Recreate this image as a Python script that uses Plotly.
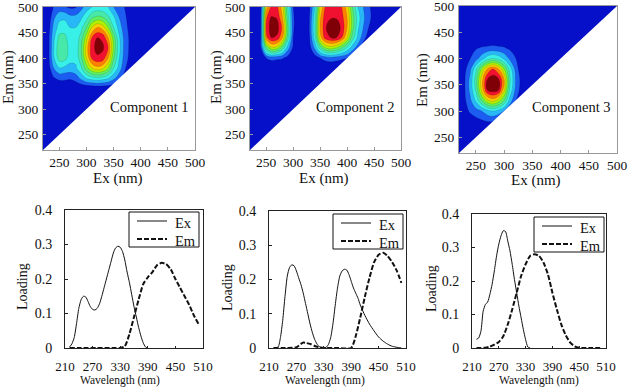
import plotly.graph_objects as go

W, H = 628, 389
FONT = "Liberation Serif"

# EEM grids, contour band index, top row is Em 500
# rows are short, whatever is missing on the right is 0
ex_grid = list(range(220, 510, 10))
em_grid = [500, 480, 460, 440, 420, 400, 380, 360, 340, 320, 300, 280, 260, 240, 220]

comp1 = [
    [0, 0, 1.1, 1.3, 1.1, 0.8, 0.9, 1.6, 2.5, 3, 3.3, 3.2, 3, 2, 1.5, 1, 0.5],
    [0, 0.3, 1.8, 2.7, 2.8, 2.3, 2.3, 2.8, 3.6, 4.8, 5.2, 5, 4.2, 3.2, 2, 1.2, 0.6],
    [0, 0.5, 2.4, 3.4, 3.5, 3, 3, 3.6, 5, 7, 8, 7.5, 6, 4, 2.6, 1.4, 0.7],
    [0, 0.7, 2.8, 4.3, 4.3, 3.3, 3.2, 4.4, 6.5, 9, 10, 9.8, 8, 5.5, 3.2, 1.7, 0.8],
    [0, 0.7, 3, 4.8, 4.7, 3.5, 3.3, 4.8, 7.5, 9.6, 10.4, 10.2, 9, 5.8, 3.4, 1.7, 0.8],
    [0, 0.7, 2.9, 4.5, 4.4, 3.4, 3.3, 4.6, 7, 9.2, 9.8, 9.6, 8, 5.2, 3.1, 1.6, 0.7],
    [0, 0.5, 2, 2.9, 2.7, 2.6, 2.8, 3.8, 5.5, 7, 7.6, 7.2, 6, 4, 2.6, 1.2, 0.3],
    [0, 0.2, 0.9, 1.2, 1.2, 1.1, 1.4, 2.2, 3, 3.4, 3.6, 3.4, 3, 2.2, 1.4, 0.6],
    [0, 0, 0, 0, 0, 0, 0, 0, 0, 0, 0.1, 0.1, 0.1],
    [0], [0], [0], [0], [0], [0],
]

comp2 = [
    [0, 0, 0.7, 7.5, 9.3, 9.3, 7.5, 4, 1, 0, 0, 0.7, 3, 7, 9.2, 9.6, 9.4, 9, 7.5, 5, 3, 2, 1.2, 0.5],
    [0, 0, 1, 8.8, 10.1, 9.9, 8, 4.5, 1.2, 0, 0, 0.9, 3.5, 7.8, 9.7, 9.9, 9.9, 9.4, 8, 5.5, 3.5, 2.2, 1.3, 0.6],
    [0, 0, 1, 9.2, 10.6, 10.5, 8.8, 5, 1.2, 0, 0, 1, 3.8, 8, 9.9, 10.6, 10.6, 9.8, 8, 5.5, 3.2, 2, 1, 0.4],
    [0, 0, 1, 8.7, 10, 9.8, 8, 4.5, 1, 0, 0, 0.8, 3.5, 7.5, 9.5, 10, 10, 9, 7, 4.5, 2.8, 1.4, 0.5],
    [0, 0, 0.9, 5, 6.8, 6.5, 4.8, 2.5, 0.8, 0, 0, 0.5, 2.2, 4.5, 6, 6.5, 6, 5, 3.8, 2.5, 1.5, 0.4],
    [0, 0, 0.2, 1, 1.3, 1.2, 1.1, 0.6, 0.1, 0, 0, 0, 0.4, 1, 1.4, 1.6, 1.4, 1.2, 1, 0.5],
    [0], [0], [0], [0], [0], [0], [0], [0], [0],
]

comp3 = [
    [0], [0], [0], [0],
    [0, 0, 0.3, 0.9, 1.1, 1.2, 1.3, 1.2, 1.1, 0.8, 0.2],
    [0, 0.2, 1, 1.6, 2.5, 3.5, 4, 3.6, 2.8, 1.8, 1.1],
    [0, 0.7, 1.8, 3.8, 6, 8, 9, 8, 6, 3.6, 1.7, 0.3],
    [0, 0.9, 2.3, 4.5, 7.5, 10, 10.7, 10.2, 8, 4.2, 2, 0.7],
    [0, 0.9, 2.3, 4.2, 7.2, 10, 10.5, 10.1, 7.3, 3.8, 1.8, 0.6],
    [0, 0.8, 1.8, 3.2, 5, 6.8, 7.5, 6.6, 5, 2.6, 1.1, 0.2],
    [0, 0.5, 1.2, 1.6, 2, 2.6, 3, 2.6, 1.9, 1, 0.2],
    [0, 0, 0.3, 0.6, 0.8, 1, 1, 0.7, 0.3],
    [0], [0], [0],
]

# loadings
ex1_x = [220, 225, 230, 235, 240, 245, 250, 255, 260, 265, 270, 275, 280, 285, 290, 295, 300, 305, 310, 315, 320, 325, 330, 335, 340, 345, 350, 355, 360, 365, 370, 375, 380, 385, 390]
ex1_y = [0.003, 0.012, 0.03, 0.07, 0.115, 0.14, 0.15, 0.148, 0.135, 0.12, 0.112, 0.11, 0.115, 0.128, 0.15, 0.175, 0.2, 0.225, 0.25, 0.275, 0.29, 0.295, 0.292, 0.28, 0.255, 0.22, 0.19, 0.155, 0.12, 0.09, 0.06, 0.035, 0.015, 0.003, 0]
em1_x = [220, 240, 260, 280, 300, 320, 330, 340, 350, 360, 370, 380, 390, 400, 410, 420, 430, 440, 450, 460, 470, 480, 490, 500]
em1_y = [0, 0, 0, 0, 0, 0, 0, 0.005, 0.04, 0.09, 0.14, 0.185, 0.205, 0.22, 0.24, 0.247, 0.243, 0.228, 0.2, 0.175, 0.15, 0.125, 0.095, 0.07]

ex2_x = [220, 230, 235, 240, 245, 250, 255, 260, 265, 270, 275, 280, 285, 290, 295, 300, 305, 310, 315, 320, 325, 330, 335, 340, 345, 350, 355, 360, 365, 370, 375, 380, 385, 390, 395, 400, 405, 410, 420, 430, 440, 450, 460, 470, 480, 490, 500]
ex2_y = [0, 0.003, 0.03, 0.08, 0.15, 0.21, 0.235, 0.243, 0.24, 0.225, 0.205, 0.185, 0.16, 0.13, 0.1, 0.07, 0.045, 0.025, 0.012, 0.004, 0.001, 0, 0.002, 0.01, 0.03, 0.07, 0.125, 0.175, 0.21, 0.225, 0.23, 0.228, 0.215, 0.195, 0.175, 0.16, 0.145, 0.125, 0.095, 0.07, 0.05, 0.032, 0.02, 0.011, 0.005, 0.002, 0]
em2_x = [220, 250, 270, 280, 285, 290, 300, 310, 320, 330, 360, 390, 400, 410, 420, 430, 440, 450, 460, 470, 480, 490, 500]
em2_y = [0, 0, 0.002, 0.012, 0.016, 0.015, 0.012, 0.006, 0.002, 0, 0, 0, 0.035, 0.09, 0.15, 0.205, 0.25, 0.272, 0.278, 0.268, 0.25, 0.225, 0.19]

ex3_x = [220, 225, 230, 235, 240, 245, 250, 255, 260, 265, 270, 275, 280, 285, 290, 295, 300, 305, 310, 315, 320, 325, 330, 335, 340]
ex3_y = [0.026, 0.03, 0.05, 0.11, 0.13, 0.137, 0.16, 0.19, 0.23, 0.275, 0.31, 0.335, 0.35, 0.348, 0.32, 0.29, 0.25, 0.205, 0.165, 0.125, 0.09, 0.055, 0.025, 0.003, 0]
em3_x = [220, 230, 240, 250, 260, 270, 280, 290, 300, 310, 320, 330, 340, 350, 360, 370, 380, 390, 400, 410, 420, 430, 440, 450, 460, 480, 500]
em3_y = [0, 0, 0.001, 0.004, 0.01, 0.018, 0.035, 0.07, 0.115, 0.165, 0.215, 0.25, 0.275, 0.28, 0.275, 0.255, 0.22, 0.165, 0.115, 0.07, 0.038, 0.016, 0.005, 0.001, 0, 0, 0]

eem_ticks = [250, 300, 350, 400, 450, 500]
em_ticks = [250, 300, 350, 400, 450, 500]
wave_ticks = [210, 270, 330, 390, 450, 510]
load_ticks = [0, 0.1, 0.2, 0.3, 0.4]
load_labels = ["0", "0.1", "0.2", "0.3", "0.4"]

band_colors = ["#0510c8", "#1c5cf0", "#28b8f8", "#38f0e8", "#48e8a8", "#60f060",
               "#b0f000", "#f8d000", "#ff8000", "#f01030", "#800008"]

# plot boxes in page pixels: left, right, top, bottom
eem_boxes = [(43, 195, 7, 150), (250, 401, 7, 150), (459, 617, 6, 153)]
line_boxes = [(65, 203, 210, 348), (269, 406, 211, 348), (472, 606, 214, 348)]
legend_pos = [(129, 212), (333, 214), (534, 217)]
labels = ["Component 1", "Component 2", "Component 3"]
label_pos = [(417, 304), (416, 304), (420, 308)]

# axis titles are placed by hand in page pixels, margins are 0
ex_title_pos = [(118, 178), (324, 178), (536, 180)]
em_title_pos = [(8, 77), (216, 77), (422, 80)]
wave_title_pos = [(120, 380), (325, 380), (539, 380)]
load_title_pos = [(22, 287), (227, 287), (431, 289)]

colorscale = [[i / (len(band_colors) - 1), c] for i, c in enumerate(band_colors)]

fig = go.Figure()
layout = {}


def dom(box):
    return [box[0] / W, box[1] / W], [1 - box[3] / H, 1 - box[2] / H]


def px(x):
    return x / W


def py(y):
    return 1 - y / H


def pad(rows):
    return [r + [0] * (len(ex_grid) - len(r)) for r in rows]


def page_text(pos, text, size, angle=0, xanchor="center"):
    fig.add_annotation(x=px(pos[0]), y=py(pos[1]), xref="paper", yref="paper", text=text, textangle=angle,
                       xanchor=xanchor, yanchor="middle", showarrow=False,
                       font=dict(family=FONT, size=size, color="#111"))


for i, z in enumerate([comp1, comp2, comp3]):
    n = i + 1
    xname, yname = f"x{n}", f"y{n}"
    fig.add_trace(go.Contour(
        x=ex_grid, y=em_grid, z=pad(z), xaxis=xname, yaxis=yname, showscale=False,
        colorscale=colorscale, autocontour=False,
        contours=dict(start=1, end=10, size=1, coloring="fill", showlines=True),
        line=dict(color="rgba(0,0,0,0.25)", width=0.5, smoothing=1.1),
    ))
    # everything under the diagonal Em = Ex is blank
    fig.add_trace(go.Scatter(
        x=[ex_grid[0], ex_grid[-1], ex_grid[-1], ex_grid[0]],
        y=[ex_grid[0], ex_grid[-1], ex_grid[0], ex_grid[0]],
        xaxis=xname, yaxis=yname, mode="lines", fill="toself",
        fillcolor="white", line=dict(color="white", width=0), showlegend=False,
    ))
    xd, yd = dom(eem_boxes[i])
    layout[f"xaxis{n}"] = dict(
        domain=xd, range=[220, 500], anchor=yname, tickvals=eem_ticks, ticks="inside",
        ticklen=3, tickcolor="#999", showgrid=False, zeroline=False, showline=True, automargin=False,
        linecolor="#999", linewidth=1, mirror=True, tickfont=dict(family=FONT, size=13.5, color="#111"),
        ticklabelstandoff=0, ticklabeloverflow="allow",
    )
    layout[f"yaxis{n}"] = dict(
        domain=yd, range=[220, 500], anchor=xname, tickvals=em_ticks, ticks="inside",
        ticklen=3, tickcolor="#999", showgrid=False, zeroline=False, showline=True, automargin=False,
        linecolor="#999", linewidth=1, mirror=True, tickfont=dict(family=FONT, size=13.5, color="#111"),
        ticklabelstandoff=1, ticklabeloverflow="allow",
    )
    fig.add_annotation(x=label_pos[i][0], y=label_pos[i][1], xref=xname, yref=yname,
                       text=labels[i], showarrow=False, font=dict(family=FONT, size=14.5, color="#111"))
    page_text(ex_title_pos[i], "Ex (nm)", 15)
    page_text(em_title_pos[i], "Em (nm)", 15, angle=-90)

lines = [(ex1_x, ex1_y, em1_x, em1_y), (ex2_x, ex2_y, em2_x, em2_y), (ex3_x, ex3_y, em3_x, em3_y)]
shapes = []
for i, (ex_x, ex_y, em_x, em_y) in enumerate(lines):
    n = i + 4
    xname, yname = f"x{n}", f"y{n}"
    fig.add_trace(go.Scatter(x=ex_x, y=ex_y, name="Ex", xaxis=xname, yaxis=yname, mode="lines", showlegend=False,
                             line=dict(color="#111", width=1, shape="spline", smoothing=0.6)))
    fig.add_trace(go.Scatter(x=em_x, y=em_y, name="Em", xaxis=xname, yaxis=yname, mode="lines", showlegend=False,
                             line=dict(color="#111", width=2, dash="5px,2px", shape="spline", smoothing=0.6)))
    box = line_boxes[i]
    xd, yd = dom(box)
    layout[f"xaxis{n}"] = dict(
        domain=xd, range=[210, 510], anchor=yname, tickvals=wave_ticks, ticks="inside", ticklen=2,
        tickcolor="#222", showgrid=False, zeroline=False, showline=True, linecolor="#222", linewidth=1, automargin=False,
        mirror=True, tickfont=dict(family=FONT, size=13, color="#111"), ticklabelstandoff=6, ticklabeloverflow="allow",
    )
    layout[f"yaxis{n}"] = dict(
        domain=yd, range=[0, 0.4], anchor=xname, tickvals=load_ticks, ticktext=load_labels, ticks="inside",
        ticklen=3, tickcolor="#222", showgrid=False, zeroline=False, showline=True, linecolor="#222", linewidth=1,
        automargin=False, mirror=True, tickfont=dict(family=FONT, size=14, color="#111"), ticklabelstandoff=9,
        ticklabeloverflow="allow",
    )
    page_text(wave_title_pos[i], "Wavelength (nm)", 11.5)
    page_text(load_title_pos[i], "Loading", 14, angle=-90)

    # legend box
    lx, ly = legend_pos[i]
    shapes.append(dict(type="rect", xref="paper", yref="paper", x0=px(lx), x1=px(lx + 70), y0=py(ly), y1=py(ly + 35),
                       line=dict(color="#111", width=1), fillcolor="white"))
    shapes.append(dict(type="line", xref="paper", yref="paper", x0=px(lx + 8), x1=px(lx + 38), y0=py(ly + 9), y1=py(ly + 9),
                       line=dict(color="#111", width=1)))
    shapes.append(dict(type="line", xref="paper", yref="paper", x0=px(lx + 8), x1=px(lx + 38), y0=py(ly + 27), y1=py(ly + 27),
                       line=dict(color="#111", width=2, dash="5px,2px")))
    page_text((lx + 44, ly + 11), "Ex", 14.5, xanchor="left")
    page_text((lx + 44, ly + 29), "Em", 14.5, xanchor="left")

fig.update_layout(width=W, height=H, margin=dict(l=0, r=0, t=0, b=0), paper_bgcolor="white",
                  plot_bgcolor="white", showlegend=False, shapes=shapes, **layout)
# page body has a default 8px margin which would shift everything
fig.write_html("out.html", config={"displayModeBar": False}, post_script="document.body.style.margin='0';")
